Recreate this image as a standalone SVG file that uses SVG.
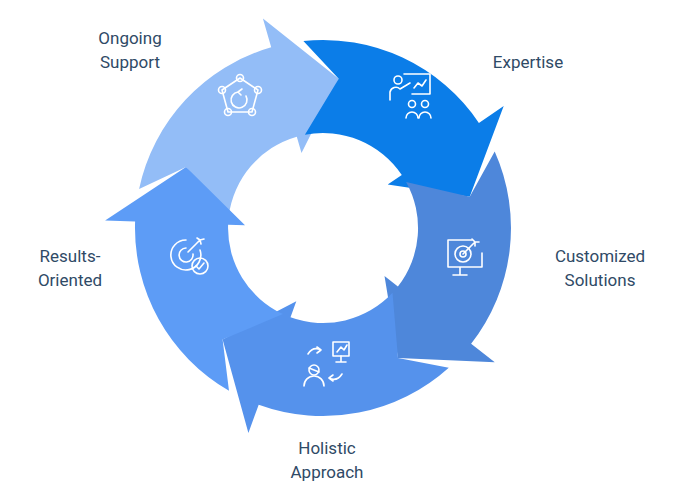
<svg xmlns="http://www.w3.org/2000/svg" width="690" height="490" viewBox="0 0 690 490">
<style>
.lbl{font-family:Roboto,"Liberation Sans",sans-serif;font-size:17px;fill:#2f4a66;text-anchor:middle}
.ic{fill:none;stroke:#fff;stroke-width:1.6;stroke-linecap:round;stroke-linejoin:round}
</style>
<rect width="690" height="490" fill="#fff"/>
<g id="connectors"></g>
<g id="ongoing">
<path fill="#93bdf7" d="M139.1,188.9 A188 188 0 0 1 271.2,47.3 L262.9,18.4 L338.7,78.8 L301.5,153.0 L296.8,136.7 A95 95 0 0 0 228.7,216.4 L186.0,167.0 Z"/>
<g class="ic"><polygon points="240,78 258,90 252,112 228,112 222,90"/><circle cx="240" cy="78" r="3.5"/><circle cx="258" cy="90" r="3.5"/><circle cx="252" cy="112" r="3.5"/><circle cx="228" cy="112" r="3.5"/><circle cx="222" cy="90" r="3.5"/><path d="M246,96 A8 8 0 1 1 238,92 M238,92 l4,-3 M238,92 l3,3"/></g>
<text class="lbl" x="130" y="44">Ongoing</text><text class="lbl" x="130" y="68">Support</text>
</g>
<g id="expertise">
<path fill="#0b7de8" d="M303.4,41.0 A188 188 0 0 1 478.9,122.9 L503.7,106.1 L469.7,196.8 L387.7,184.4 L401.8,174.9 A95 95 0 0 0 304.9,134.7 L338.7,78.8 Z"/>
<g class="ic"><circle cx="398" cy="80" r="4"/><path d="M390,100 v-8 a6 6 0 0 1 10,-3 l10,-6 M404,74 h26 v20 h-18 M414,88 l4,-5 4,3 4,-6"/><circle cx="412" cy="104" r="3.5"/><circle cx="425" cy="104" r="3.5"/><path d="M406,118 a6 6 0 0 1 12,0 M419,118 a6 6 0 0 1 12,0"/></g>
<text class="lbl" x="528" y="68">Expertise</text>
</g>
<g id="customized">
<path fill="#4e87da" d="M494.7,151.5 A188 188 0 0 1 471.1,343.8 L494.8,362.2 L398.0,357.9 L384.5,276.0 L397.9,286.5 A95 95 0 0 0 406.1,181.9 L469.7,196.8 Z"/>
<g class="ic"><path d="M472,240 h-24 v27 h34 v-14 M460,267 v7 M453,275 h14"/><circle cx="463" cy="254" r="8"/><circle cx="463" cy="254" r="3"/><path d="M463,254 l12,-12 M472,239 l3,3 4,0 M475,242 l0,4"/></g>
<text class="lbl" x="600" y="262">Customized</text><text class="lbl" x="600" y="286">Solutions</text>
</g>
<g id="holistic">
<path fill="#5592ec" d="M448.8,367.7 A188 188 0 0 1 258.7,404.7 L248.4,432.9 L222.6,339.5 L296.3,301.3 L290.5,317.3 A95 95 0 0 0 392.5,292.8 L398.0,357.9 Z"/>
<g class="ic"><rect x="333" y="342" width="16" height="14"/><path d="M337,352 l4,-5 3,3 3,-5 M341,356 v6 M336,362 h10 M308,354 q5,-8 13,-4 M321,350 l-4,-3 M321,350 l-4,3 M342,374 q-5,8 -13,4 M329,378 l4,-3 M329,378 l4,3"/><circle cx="314" cy="370" r="5"/><path d="M304,386 a10 10 0 0 1 20,0 M309,368 l10,4"/></g>
<text class="lbl" x="327" y="454">Holistic</text><text class="lbl" x="327" y="478">Approach</text>
</g>
<g id="results">
<path fill="#5d9cf6" d="M229.0,390.8 A188 188 0 0 1 135.1,221.4 L105.1,220.4 L186.0,167.0 L245.0,225.3 L228.1,224.7 A95 95 0 0 0 282.9,314.1 L222.6,339.5 Z"/>
<g class="ic"><path d="M186,240 a15 15 0 1 0 14,10 M186,248 a7 7 0 1 0 7,6"/><path d="M188,252 l12,-12 M197,238 l3,2 4,-1 M200,240 l1,4"/><circle cx="200" cy="266" r="8"/><path d="M196,266 l3,3 5,-6"/></g>
<text class="lbl" x="70" y="262">Results-</text><text class="lbl" x="70" y="286">Oriented</text>
</g>
</svg>
